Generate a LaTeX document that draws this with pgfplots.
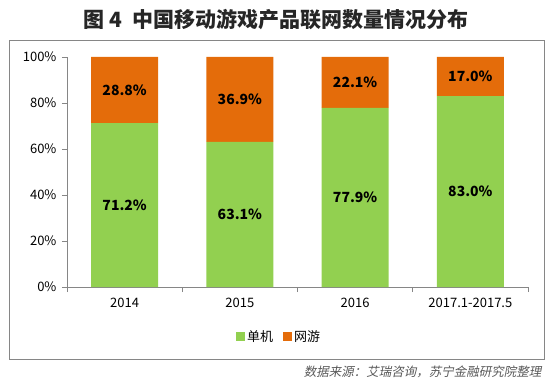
\documentclass[border=0pt]{standalone}
\usepackage{fontspec}
\setmainfont{Noto Sans CJK SC}
\newfontfamily\srcfont[FakeSlant=0.2]{Noto Sans CJK SC}
\usepackage{pgfplots}
\pgfplotsset{compat=1.18}
\definecolor{cgreen}{HTML}{92D050}
\definecolor{corange}{HTML}{E46C0A}
\definecolor{axgray}{HTML}{868686}
\definecolor{titlec}{HTML}{262626}
\definecolor{srcc}{HTML}{595959}

\begin{document}
\begin{tikzpicture}
\useasboundingbox (0pt,0pt) rectangle (557pt,383pt);
\draw[axgray, line width=1pt] (9pt,23pt) rectangle (544pt,342pt);
\node[font=\fontsize{21}{24}\selectfont\bfseries, text=titlec] at (276pt,363.5pt) {图 4\ \ 中国移动游戏产品联网数量情况分布};
\begin{axis}[
  at={(67pt,96pt)}, anchor=south west,
  scale only axis, width=461pt, height=230pt,
  xmin=-0.5, xmax=3.5, ymin=0, ymax=100,
  ybar stacked, bar width=67pt,
  axis lines*=left,
  axis line style={draw=axgray, line width=0.8pt},
  tick style={draw=axgray, line width=0.8pt},
  tick align=outside,
  major tick length=5pt,
  minor tick length=5pt,
  ytick={0,20,40,60,80,100},
  yticklabel={\pgfmathprintnumber{\tick}\%},
  yticklabel style={xshift=-2pt},
  /pgf/number format/assume math mode=true,
  xtick={0,1,2,3},
  xticklabels={2014,2015,2016,2017.1-2017.5},
  major x tick style={draw=none},
  minor xtick={-0.5,0.5,1.5,2.5,3.5},
  minor x tick style={draw=axgray, line width=0.8pt},
  ticklabel style={font=\fontsize{13}{15}\selectfont, text=black},
  xticklabel style={yshift=-3pt},
  legend style={at={(0.46,-0.217)}, anchor=center, draw=none, fill=none,
    legend columns=2, font=\fontsize{13}{15}\selectfont,
    /tikz/every even column/.append style={column sep=8pt}},
  legend image code/.code={\fill[#1] (0pt,-4.5pt) rectangle (9pt,4.5pt);},
]
\addplot[fill=cgreen, draw=none] coordinates {(0,71.2) (1,63.1) (2,77.9) (3,83.0)};
\addplot[fill=corange, draw=none] coordinates {(0,28.8) (1,36.9) (2,22.1) (3,17.0)};
\legend{单机,网游}
\end{axis}
\begin{axis}[
  at={(67pt,96pt)}, anchor=south west,
  scale only axis, width=461pt, height=230pt,
  xmin=-0.5, xmax=3.5, ymin=0, ymax=100,
  hide axis,
  nodes near coords,
  point meta=explicit symbolic,
  every node near coord/.append style={anchor=center, font=\fontsize{14}{16}\selectfont\bfseries, text=black},
]
\addplot[draw=none, mark=none] coordinates {(0,35.6)[71.2\%] (1,31.55)[63.1\%] (2,38.95)[77.9\%] (3,41.5)[83.0\%]};
\addplot[draw=none, mark=none] coordinates {(0,85.6)[28.8\%] (1,81.55)[36.9\%] (2,88.95)[22.1\%] (3,91.5)[17.0\%]};
\end{axis}
\node[anchor=east, font=\srcfont\fontsize{12.5}{14}\selectfont, text=srcc] at (545pt,11pt) {数据来源：艾瑞咨询，苏宁金融研究院整理};
\end{tikzpicture}
\end{document}
